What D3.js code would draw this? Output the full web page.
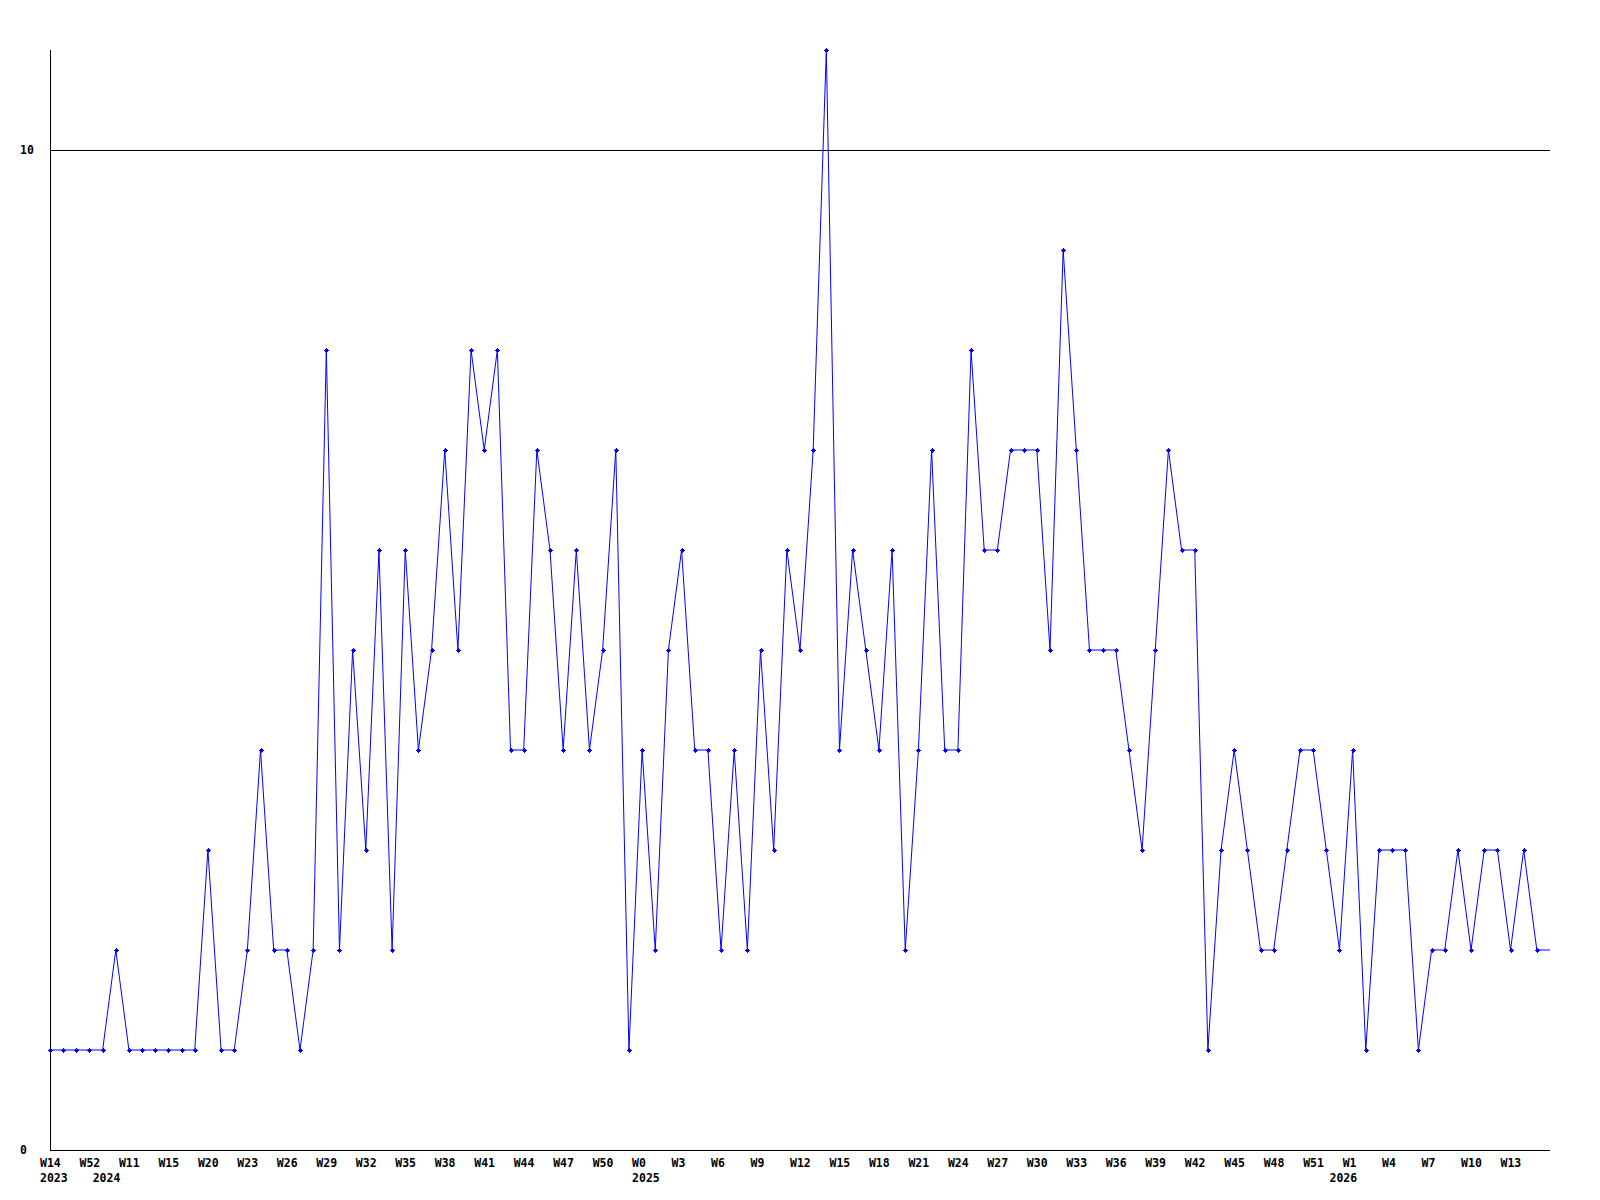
<!DOCTYPE html>
<html>
<head>
<meta charset="utf-8">
<script src="https://cdn.jsdelivr.net/npm/d3@7"></script>
<style>
  html, body { margin: 0; padding: 0; background: #fff; }
  svg { display: block; }
  text { font-family: "DejaVu Sans Mono", "Liberation Mono", monospace; font-weight: bold; font-size: 11.5px; fill: #000; }
</style>
</head>
<body>
<div id="chart"></div>
<script>
// weekly counts, one per point; the last one is the running week (drawn without marker)
const values = [
  1, 1, 1, 1, 1, 2, 1, 1, 1, 1,
  1, 1, 3, 1, 1, 2, 4, 2, 2, 1,
  2, 8, 2, 5, 3, 6, 2, 6, 4, 5,
  7, 5, 8, 7, 8, 4, 4, 7, 6, 4,
  6, 4, 5, 7, 1, 4, 2, 5, 6, 4,
  4, 2, 4, 2, 5, 3, 6, 5, 7, 11,
  4, 6, 5, 4, 6, 2, 4, 7, 4, 4,
  8, 6, 6, 7, 7, 7, 5, 9, 7, 5,
  5, 5, 4, 3, 5, 7, 6, 6, 1, 3,
  4, 3, 2, 2, 3, 4, 4, 3, 2, 4,
  1, 3, 3, 3, 1, 2, 2, 3, 2, 3,
  3, 2, 3, 2, 2
];

// [point index, label]
const weekTicks = [
  [0, 'W14'], [3, 'W52'], [6, 'W11'], [9, 'W15'], [12, 'W20'], [15, 'W23'], [18, 'W26'],
  [21, 'W29'], [24, 'W32'], [27, 'W35'], [30, 'W38'], [33, 'W41'], [36, 'W44'], [39, 'W47'],
  [42, 'W50'], [45, 'W0'], [48, 'W3'], [51, 'W6'], [54, 'W9'], [57, 'W12'], [60, 'W15'],
  [63, 'W18'], [66, 'W21'], [69, 'W24'], [72, 'W27'], [75, 'W30'], [78, 'W33'], [81, 'W36'],
  [84, 'W39'], [87, 'W42'], [90, 'W45'], [93, 'W48'], [96, 'W51'], [99, 'W1'], [102, 'W4'],
  [105, 'W7'], [108, 'W10'], [111, 'W13']
];
const yearTicks = [[0, '2023'], [4, '2024'], [45, '2025'], [98, '2026']];
const yTicks = [0, 10];

const width = 1600, height = 1200;
const margin = { top: 50, right: 50, bottom: 50, left: 50 };

const svg = d3.select('#chart').append('svg')
  .attr('width', width).attr('height', height)
  .attr('viewBox', `0 0 ${width} ${height}`);

const x = d3.scaleLinear().domain([0, values.length - 1]).range([margin.left, width - margin.right]);
const y = d3.scaleLinear().domain([0, 11]).range([height - margin.bottom, margin.top]);

const px = v => Math.round(v) + 0.5;

// grid lines
svg.append('g').selectAll('line').data(yTicks.filter(d => d > 0)).join('line')
  .attr('x1', x(0)).attr('x2', x(values.length - 1))
  .attr('y1', d => px(y(d))).attr('y2', d => px(y(d)))
  .attr('stroke', '#000').attr('shape-rendering', 'crispEdges');

// axes
svg.append('line')
  .attr('x1', px(x(0))).attr('x2', px(x(0)))
  .attr('y1', y(11)).attr('y2', y(0))
  .attr('stroke', '#000').attr('shape-rendering', 'crispEdges');
svg.append('line')
  .attr('x1', x(0)).attr('x2', x(values.length - 1))
  .attr('y1', px(y(0))).attr('y2', px(y(0)))
  .attr('stroke', '#000').attr('shape-rendering', 'crispEdges');

// y labels
svg.append('g').selectAll('text').data(yTicks).join('text')
  .attr('x', 20).attr('y', d => y(d)).attr('dy', '0.35em')
  .text(d => d);

// x labels
svg.append('g').selectAll('text').data(weekTicks).join('text')
  .attr('x', d => x(d[0]) - 10).attr('y', y(0) + 17)
  .text(d => d[1]);
svg.append('g').selectAll('text').data(yearTicks).join('text')
  .attr('x', d => x(d[0]) - 10).attr('y', y(0) + 32)
  .text(d => d[1]);

// series line
const line = d3.line().x((d, i) => x(i)).y(d => y(d));
svg.append('path').datum(values)
  .attr('d', line)
  .attr('fill', 'none').attr('stroke', '#0000ff').attr('stroke-width', 1);

// markers: small plus with a solid centre
const marks = svg.append('g').attr('fill', '#0000ff').attr('shape-rendering', 'crispEdges');
marks.selectAll('g').data(values.slice(0, -1)).join('g')
  .attr('transform', (d, i) => `translate(${Math.round(x(i))},${Math.round(y(d))})`)
  .each(function() {
    const g = d3.select(this);
    g.append('rect').attr('x', -2).attr('y', 0).attr('width', 5).attr('height', 1);
    g.append('rect').attr('x', 0).attr('y', -2).attr('width', 1).attr('height', 5);
    g.append('rect').attr('x', -1).attr('y', -1).attr('width', 3).attr('height', 3);
  });
</script>
</body>
</html>
